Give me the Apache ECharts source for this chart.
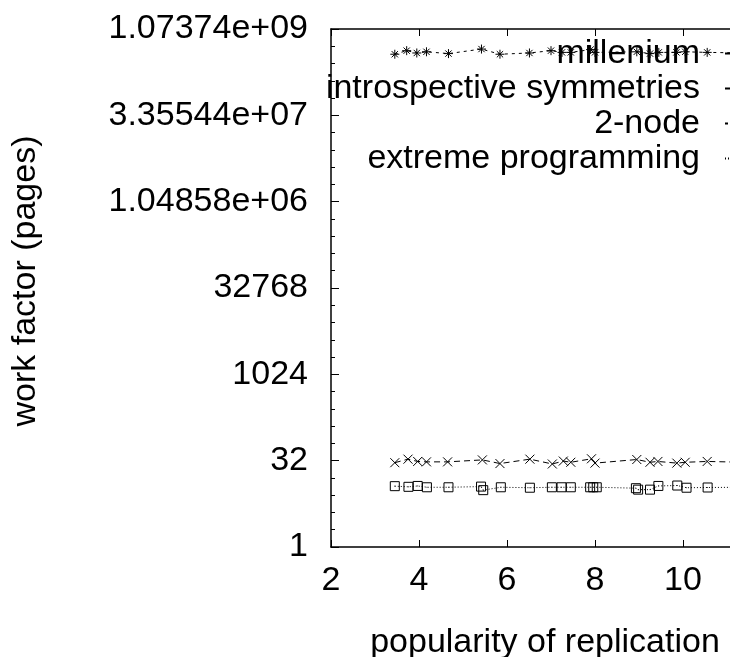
<!DOCTYPE html>
<html>
<head>
<meta charset="utf-8">
<script src="https://cdn.jsdelivr.net/npm/echarts@6/dist/echarts.min.js"></script>
<style>
html, body { margin: 0; padding: 0; background: #fff; }
#chart { width: 730px; height: 657px; }
</style>
</head>
<body>
<div id="chart"></div>
<script>
var FONT = '"Liberation Sans", Arial, sans-serif';

var seriesNames = ['millenium', 'introspective symmetries', '2-node', 'extreme programming'];

// millenium: no point falls inside the visible window
var milleniumX = [];
var milleniumY = [];

// introspective symmetries (x marks, dashed)
var introX = [3.45, 3.75, 3.97, 4.17, 4.65, 5.44, 5.84, 6.52, 7.03, 7.28, 7.45, 7.92, 8.0, 8.95, 9.25, 9.43, 9.86, 10.05, 10.55, 11.4];
var introY = [29.5, 34, 31, 30.5, 30.5, 33, 28.5, 34, 28, 31.5, 30, 34.5, 29, 33.5, 30, 31, 29, 30, 31, 30];

// 2-node (stars, short dashes)
var nodeX = [3.45, 3.72, 3.95, 4.17, 4.67, 5.42, 5.84, 6.51, 7.0, 7.25, 7.45, 7.9, 8.0, 8.95, 9.25, 9.45, 9.85, 10.05, 10.55, 11.4];
var nodeY = [3.9e8, 4.5e8, 4.1e8, 4.3e8, 4.0e8, 4.8e8, 3.9e8, 4.1e8, 4.5e8, 4.2e8, 4.2e8, 4.7e8, 4.2e8, 4.3e8, 4.0e8, 4.2e8, 4.2e8, 4.3e8, 4.2e8, 4.1e8];

// extreme programming (boxes, dotted)
var xpX = [3.45, 3.76, 3.97, 4.18, 4.67, 5.41, 5.46, 5.86, 6.52, 7.02, 7.24, 7.45, 7.89, 7.96, 8.04, 8.93, 8.98, 9.25, 9.44, 9.87, 10.08, 10.56, 11.4];
var xpY = [11.5, 11.2, 11.6, 11, 11, 11.3, 9.8, 11, 10.8, 11, 11, 11, 11, 11, 11, 10.6, 10, 10, 11.6, 11.8, 10.8, 10.9, 11];

var yTickValues = [1, 32, 1024, 32768, 1048576, 33554432, 1073741824];
var yTickLabels = ['1', '32', '1024', '32768', '1.04858e+06', '3.35544e+07', '1.07374e+09'];

function pairs(xs, ys) {
    return xs.map(function (x, i) { return [x, ys[i]]; });
}

function yLabel(v) {
    for (var i = 0; i < yTickValues.length; i++) {
        if (Math.abs(Math.log2(v) - Math.log2(yTickValues[i])) < 1e-6) return yTickLabels[i];
    }
    return '';
}

/* gnuplot style point shapes, stroked */
var plusSym = 'path://M0,5L10,5M5,0L5,10';
var crossSym = 'path://M0,0L10,10M10,0L0,10';
var starSym = 'path://M0,5L10,5M5,0L5,10M1.5,1.5L8.5,8.5M8.5,1.5L1.5,8.5';
var boxSym = 'path://M0,0L10,0L10,10L0,10ZM4.6,5L5.4,5';

function lineSeries(name, data, symbol, dash) {
    return {
        name: name,
        type: 'line',
        data: data,
        symbol: symbol,
        symbolSize: 9,
        showSymbol: true,
        lineStyle: { color: '#000', width: 1, type: dash },
        itemStyle: { color: 'transparent', borderColor: '#000', borderWidth: 1 },
        emphasis: { disabled: true }
    };
}

function legendRow(name, top) {
    return {
        data: [name],
        orient: 'vertical',
        align: 'right',
        right: -56,
        top: top,
        padding: 0,
        itemWidth: 60,
        itemHeight: 14,
        selectedMode: false,
        textStyle: { fontFamily: FONT, fontSize: 34, color: '#000', lineHeight: 35, padding: [0, 20, 0, 0] }
    };
}

var option = {
    animation: false,
    backgroundColor: '#fff',
    grid: { left: 331, right: -41, top: 29, bottom: 110, outerBoundsMode: 'none' },
    legend: [
        legendRow(seriesNames[0], 36),
        legendRow(seriesNames[1], 71),
        legendRow(seriesNames[2], 106),
        legendRow(seriesNames[3], 141)
    ],
    xAxis: [{
        type: 'value',
        min: 2,
        max: 12,
        interval: 2,
        name: 'popularity of replication',
        nameLocation: 'middle',
        nameGap: 79,
        nameTextStyle: { fontFamily: FONT, fontSize: 34, color: '#000', padding: [0, 12, 0, 0] },
        axisLine: { lineStyle: { color: '#000', width: 1.5 } },
        axisTick: { inside: true, length: 7, lineStyle: { color: '#000' } },
        axisLabel: { margin: 17, fontFamily: FONT, fontSize: 34, color: '#000' },
        splitLine: { show: false }
    }, {
        type: 'value',
        position: 'top',
        min: 2,
        max: 12,
        interval: 2,
        axisLine: { lineStyle: { color: '#000', width: 1.5 } },
        axisTick: { inside: true, length: 7, lineStyle: { color: '#000' } },
        axisLabel: { show: false },
        splitLine: { show: false }
    }],
    yAxis: [{
        type: 'log',
        logBase: 2,
        min: 1,
        max: 1073741824,
        interval: 5,
        name: 'work factor (pages)',
        nameLocation: 'middle',
        nameGap: 288,
        nameRotate: 90,
        nameTextStyle: { fontFamily: FONT, fontSize: 34, color: '#000', padding: [0, 0, 0, 14] },
        axisLine: { lineStyle: { color: '#000', width: 1.5 } },
        axisTick: { inside: true, length: 8, lineStyle: { color: '#000' } },
        axisLabel: { margin: 23, fontFamily: FONT, fontSize: 34, color: '#000', formatter: yLabel },
        splitLine: { show: false }
    }, {
        type: 'log',
        logBase: 2,
        min: 1,
        max: 1073741824,
        interval: 1,
        position: 'left',
        axisLine: { show: false },
        axisTick: { inside: true, length: 4, lineStyle: { color: '#000' } },
        axisLabel: { show: false },
        splitLine: { show: false }
    }],
    series: [
        lineSeries(seriesNames[0], pairs(milleniumX, milleniumY), plusSym, 'solid'),
        lineSeries(seriesNames[1], pairs(introX, introY), crossSym, [6, 4]),
        lineSeries(seriesNames[2], pairs(nodeX, nodeY), starSym, [3, 4]),
        lineSeries(seriesNames[3], pairs(xpX, xpY), boxSym, [1, 2])
    ]
};

var chart = echarts.init(document.getElementById('chart'));
chart.setOption(option);
</script>
</body>
</html>
